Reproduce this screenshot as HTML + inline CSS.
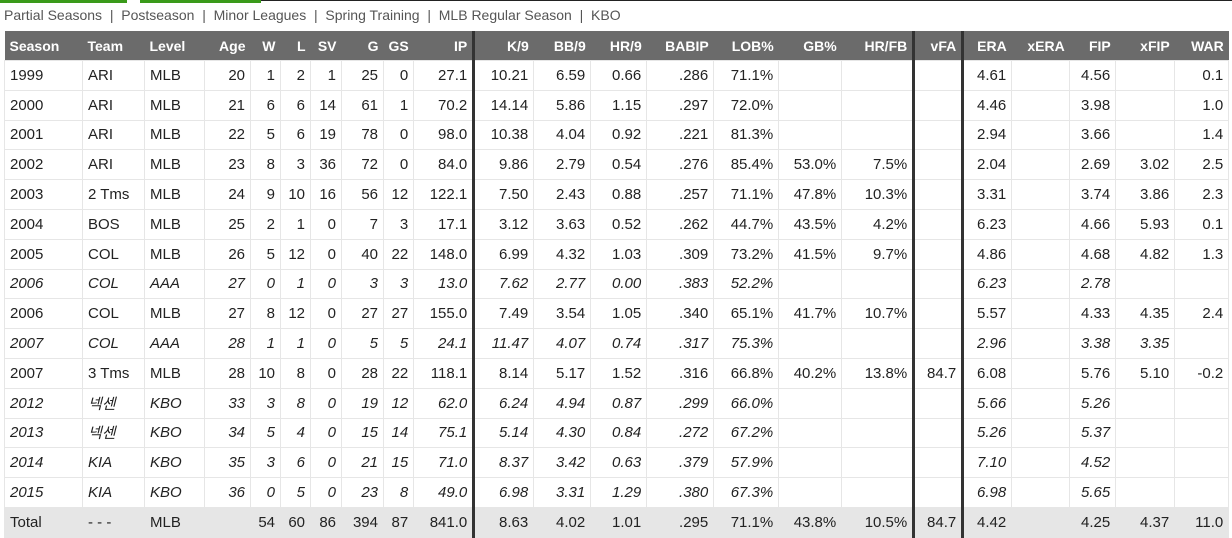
<!DOCTYPE html>
<html><head><meta charset="utf-8"><style>
body{margin:0;width:1232px;height:536px;overflow:hidden;background:#fff;font-family:"Liberation Sans","Noto Sans CJK KR",sans-serif;position:relative}
.nav{position:absolute;left:4px;top:7px;font-size:14px;color:#555;white-space:nowrap}
.g1{position:absolute;left:0;top:0;width:127px;height:3px;background:#3a9a1a}
.g2{position:absolute;left:140px;top:0;width:121px;height:3px;background:#3a9a1a}
.bl{position:absolute;left:261px;top:0;width:971px;height:1px;background:#222}
table{position:absolute;left:4px;top:31px;border-collapse:collapse;table-layout:fixed;font-size:15px;color:#222}
th{background:#6b6b6b;color:#fff;font-weight:bold;font-size:14px;height:29px;padding:0 5px;text-align:right;white-space:nowrap}
td{height:28.8px;padding:0 5px;text-align:right;border:1px solid #e6e6e6;white-space:nowrap}
th.l,td.l{text-align:left}
tr.i td{font-style:italic}
tr.t td{background:#e6e6e6}
.tk{border-right:3px solid #333!important}
</style></head><body>
<div class="g1"></div><div class="g2"></div><div class="bl"></div>
<div class="nav">Partial Seasons &nbsp;|&nbsp; Postseason &nbsp;|&nbsp; Minor Leagues &nbsp;|&nbsp; Spring Training &nbsp;|&nbsp; MLB Regular Season &nbsp;|&nbsp; KBO</div>
<table>
<colgroup>
<col style="width:78px"><col style="width:62px"><col style="width:60px"><col style="width:46px"><col style="width:30px"><col style="width:30px"><col style="width:31px"><col style="width:42px"><col style="width:30px"><col style="width:60px"><col style="width:60px"><col style="width:57px"><col style="width:56px"><col style="width:67px"><col style="width:65px"><col style="width:63px"><col style="width:72px"><col style="width:49px"><col style="width:49px"><col style="width:58px"><col style="width:46px"><col style="width:59px"><col style="width:54px">
</colgroup>
<tr><th class="l">Season</th><th class="l">Team</th><th class="l">Level</th><th>Age</th><th>W</th><th>L</th><th>SV</th><th>G</th><th>GS</th><th class="tk">IP</th><th>K/9</th><th>BB/9</th><th>HR/9</th><th>BABIP</th><th>LOB%</th><th>GB%</th><th class="tk">HR/FB</th><th class="tk">vFA</th><th>ERA</th><th>xERA</th><th>FIP</th><th>xFIP</th><th>WAR</th></tr>
<tr><td class="l">1999</td><td class="l">ARI</td><td class="l">MLB</td><td>20</td><td>1</td><td>2</td><td>1</td><td>25</td><td>0</td><td class="tk">27.1</td><td>10.21</td><td>6.59</td><td>0.66</td><td>.286</td><td>71.1%</td><td></td><td class="tk"></td><td class="tk"></td><td>4.61</td><td></td><td>4.56</td><td></td><td>0.1</td></tr>
<tr><td class="l">2000</td><td class="l">ARI</td><td class="l">MLB</td><td>21</td><td>6</td><td>6</td><td>14</td><td>61</td><td>1</td><td class="tk">70.2</td><td>14.14</td><td>5.86</td><td>1.15</td><td>.297</td><td>72.0%</td><td></td><td class="tk"></td><td class="tk"></td><td>4.46</td><td></td><td>3.98</td><td></td><td>1.0</td></tr>
<tr><td class="l">2001</td><td class="l">ARI</td><td class="l">MLB</td><td>22</td><td>5</td><td>6</td><td>19</td><td>78</td><td>0</td><td class="tk">98.0</td><td>10.38</td><td>4.04</td><td>0.92</td><td>.221</td><td>81.3%</td><td></td><td class="tk"></td><td class="tk"></td><td>2.94</td><td></td><td>3.66</td><td></td><td>1.4</td></tr>
<tr><td class="l">2002</td><td class="l">ARI</td><td class="l">MLB</td><td>23</td><td>8</td><td>3</td><td>36</td><td>72</td><td>0</td><td class="tk">84.0</td><td>9.86</td><td>2.79</td><td>0.54</td><td>.276</td><td>85.4%</td><td>53.0%</td><td class="tk">7.5%</td><td class="tk"></td><td>2.04</td><td></td><td>2.69</td><td>3.02</td><td>2.5</td></tr>
<tr><td class="l">2003</td><td class="l">2 Tms</td><td class="l">MLB</td><td>24</td><td>9</td><td>10</td><td>16</td><td>56</td><td>12</td><td class="tk">122.1</td><td>7.50</td><td>2.43</td><td>0.88</td><td>.257</td><td>71.1%</td><td>47.8%</td><td class="tk">10.3%</td><td class="tk"></td><td>3.31</td><td></td><td>3.74</td><td>3.86</td><td>2.3</td></tr>
<tr><td class="l">2004</td><td class="l">BOS</td><td class="l">MLB</td><td>25</td><td>2</td><td>1</td><td>0</td><td>7</td><td>3</td><td class="tk">17.1</td><td>3.12</td><td>3.63</td><td>0.52</td><td>.262</td><td>44.7%</td><td>43.5%</td><td class="tk">4.2%</td><td class="tk"></td><td>6.23</td><td></td><td>4.66</td><td>5.93</td><td>0.1</td></tr>
<tr><td class="l">2005</td><td class="l">COL</td><td class="l">MLB</td><td>26</td><td>5</td><td>12</td><td>0</td><td>40</td><td>22</td><td class="tk">148.0</td><td>6.99</td><td>4.32</td><td>1.03</td><td>.309</td><td>73.2%</td><td>41.5%</td><td class="tk">9.7%</td><td class="tk"></td><td>4.86</td><td></td><td>4.68</td><td>4.82</td><td>1.3</td></tr>
<tr class="i"><td class="l">2006</td><td class="l">COL</td><td class="l">AAA</td><td>27</td><td>0</td><td>1</td><td>0</td><td>3</td><td>3</td><td class="tk">13.0</td><td>7.62</td><td>2.77</td><td>0.00</td><td>.383</td><td>52.2%</td><td></td><td class="tk"></td><td class="tk"></td><td>6.23</td><td></td><td>2.78</td><td></td><td></td></tr>
<tr><td class="l">2006</td><td class="l">COL</td><td class="l">MLB</td><td>27</td><td>8</td><td>12</td><td>0</td><td>27</td><td>27</td><td class="tk">155.0</td><td>7.49</td><td>3.54</td><td>1.05</td><td>.340</td><td>65.1%</td><td>41.7%</td><td class="tk">10.7%</td><td class="tk"></td><td>5.57</td><td></td><td>4.33</td><td>4.35</td><td>2.4</td></tr>
<tr class="i"><td class="l">2007</td><td class="l">COL</td><td class="l">AAA</td><td>28</td><td>1</td><td>1</td><td>0</td><td>5</td><td>5</td><td class="tk">24.1</td><td>11.47</td><td>4.07</td><td>0.74</td><td>.317</td><td>75.3%</td><td></td><td class="tk"></td><td class="tk"></td><td>2.96</td><td></td><td>3.38</td><td>3.35</td><td></td></tr>
<tr><td class="l">2007</td><td class="l">3 Tms</td><td class="l">MLB</td><td>28</td><td>10</td><td>8</td><td>0</td><td>28</td><td>22</td><td class="tk">118.1</td><td>8.14</td><td>5.17</td><td>1.52</td><td>.316</td><td>66.8%</td><td>40.2%</td><td class="tk">13.8%</td><td class="tk">84.7</td><td>6.08</td><td></td><td>5.76</td><td>5.10</td><td>-0.2</td></tr>
<tr class="i"><td class="l">2012</td><td class="l">넥센</td><td class="l">KBO</td><td>33</td><td>3</td><td>8</td><td>0</td><td>19</td><td>12</td><td class="tk">62.0</td><td>6.24</td><td>4.94</td><td>0.87</td><td>.299</td><td>66.0%</td><td></td><td class="tk"></td><td class="tk"></td><td>5.66</td><td></td><td>5.26</td><td></td><td></td></tr>
<tr class="i"><td class="l">2013</td><td class="l">넥센</td><td class="l">KBO</td><td>34</td><td>5</td><td>4</td><td>0</td><td>15</td><td>14</td><td class="tk">75.1</td><td>5.14</td><td>4.30</td><td>0.84</td><td>.272</td><td>67.2%</td><td></td><td class="tk"></td><td class="tk"></td><td>5.26</td><td></td><td>5.37</td><td></td><td></td></tr>
<tr class="i"><td class="l">2014</td><td class="l">KIA</td><td class="l">KBO</td><td>35</td><td>3</td><td>6</td><td>0</td><td>21</td><td>15</td><td class="tk">71.0</td><td>8.37</td><td>3.42</td><td>0.63</td><td>.379</td><td>57.9%</td><td></td><td class="tk"></td><td class="tk"></td><td>7.10</td><td></td><td>4.52</td><td></td><td></td></tr>
<tr class="i"><td class="l">2015</td><td class="l">KIA</td><td class="l">KBO</td><td>36</td><td>0</td><td>5</td><td>0</td><td>23</td><td>8</td><td class="tk">49.0</td><td>6.98</td><td>3.31</td><td>1.29</td><td>.380</td><td>67.3%</td><td></td><td class="tk"></td><td class="tk"></td><td>6.98</td><td></td><td>5.65</td><td></td><td></td></tr>
<tr class="t"><td class="l">Total</td><td class="l">- - -</td><td class="l">MLB</td><td></td><td>54</td><td>60</td><td>86</td><td>394</td><td>87</td><td class="tk">841.0</td><td>8.63</td><td>4.02</td><td>1.01</td><td>.295</td><td>71.1%</td><td>43.8%</td><td class="tk">10.5%</td><td class="tk">84.7</td><td>4.42</td><td></td><td>4.25</td><td>4.37</td><td>11.0</td></tr>
</table>
</body></html>
